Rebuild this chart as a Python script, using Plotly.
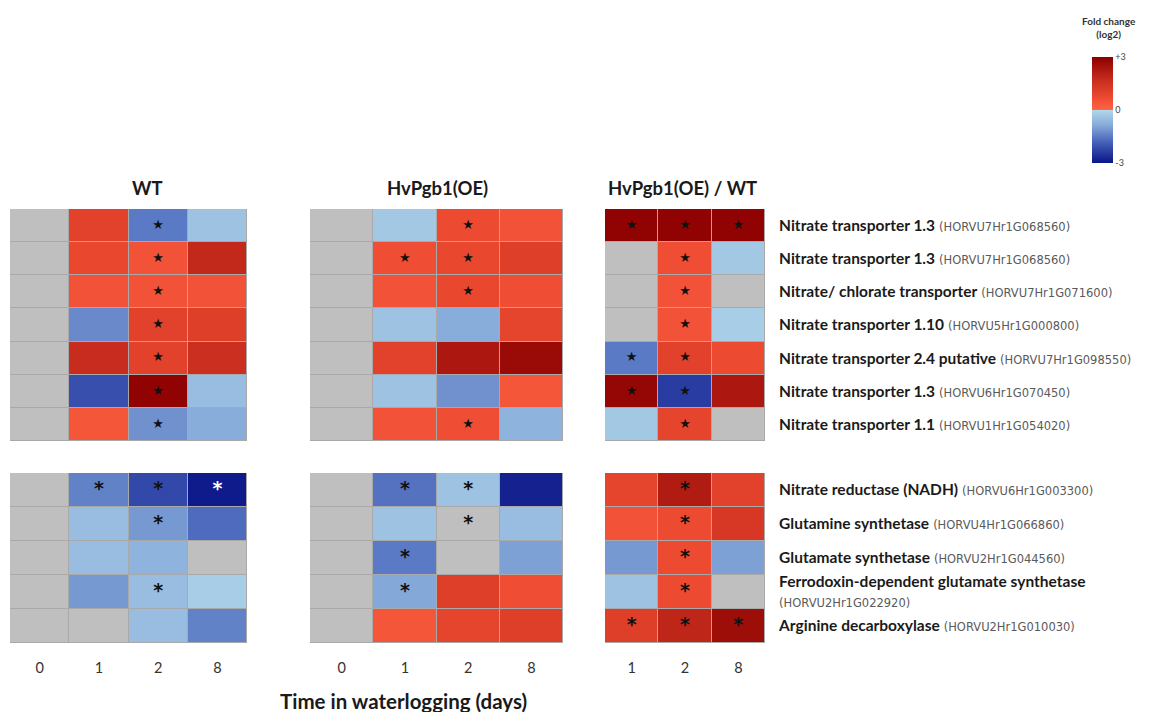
import plotly.graph_objects as go

# ---------------- data ----------------
WT_COLS = ["0", "1", "2", "8"]
OE_COLS = ["0", "1", "2", "8"]
RT_COLS = ["1", "2", "8"]

# log2 fold change; None = grey (not changed / not determined)
WT_TOP = [
    [None, 1.0, -1.5, -0.4],
    [None, 0.8, 0.5, 1.8],
    [None, 0.5, 0.5, 0.5],
    [None, -1.3, 1.0, 1.1],
    [None, 1.7, 1.0, 1.6],
    [None, -2.1, 2.9, -0.5],
    [None, 0.4, -1.2, -0.8],
]
WT_TOP_SIG = [
    [0, 0, 1, 0], [0, 0, 1, 0], [0, 0, 1, 0], [0, 0, 1, 0],
    [0, 0, 1, 0], [0, 0, 1, 0], [0, 0, 1, 0],
]
WT_BOT = [
    [None, -1.4, -2.2, -2.9],
    [None, -0.5, -1.1, -1.7],
    [None, -0.5, -0.7, None],
    [None, -1.1, -0.5, -0.2],
    [None, None, -0.5, -1.4],
]
WT_BOT_SIG = [
    [0, 1, 1, 2], [0, 0, 1, 0], [0, 0, 0, 0], [0, 0, 1, 0], [0, 0, 0, 0],
]

OE_TOP = [
    [None, -0.3, 0.7, 0.5],
    [None, 0.6, 0.8, 1.1],
    [None, 0.5, 0.8, 0.6],
    [None, -0.4, -0.8, 0.9],
    [None, 1.0, 2.3, 2.7],
    [None, -0.4, -1.2, 0.4],
    [None, 0.5, 0.6, -0.7],
]
OE_TOP_SIG = [
    [0, 0, 1, 0], [0, 1, 1, 0], [0, 0, 1, 0], [0, 0, 0, 0],
    [0, 0, 0, 0], [0, 0, 0, 0], [0, 0, 1, 0],
]
OE_BOT = [
    [None, -1.6, -0.4, -2.8],
    [None, -0.4, None, -0.5],
    [None, -1.5, None, -1.0],
    [None, -0.9, 1.1, 0.6],
    [None, 0.4, 0.9, 1.1],
]
OE_BOT_SIG = [
    [0, 1, 1, 0], [0, 0, 1, 0], [0, 1, 0, 0], [0, 1, 0, 0], [0, 0, 0, 0],
]

RT_TOP = [
    [2.9, 2.9, 2.9],
    [None, 0.6, -0.3],
    [None, 0.5, None],
    [None, 0.5, -0.2],
    [-1.5, 1.0, 0.7],
    [2.8, -2.4, 2.3],
    [-0.3, 0.9, None],
]
RT_TOP_SIG = [
    [1, 1, 1], [0, 1, 0], [0, 1, 0], [0, 1, 0], [1, 1, 0], [1, 1, 0], [0, 1, 0],
]
RT_BOT = [
    [0.9, 2.2, 1.0],
    [0.5, 0.7, 1.3],
    [-1.1, 0.7, -1.0],
    [-0.4, 0.7, None],
    [1.1, 1.9, 2.6],
]
RT_BOT_SIG = [
    [0, 1, 0], [0, 1, 0], [0, 1, 0], [0, 1, 0], [1, 1, 1],
]

TOP_GENES = [
    "Nitrate transporter 1.3", "Nitrate transporter 1.3",
    "Nitrate/ chlorate transporter", "Nitrate transporter 1.10",
    "Nitrate transporter 2.4 putative", "Nitrate transporter 1.3",
    "Nitrate transporter 1.1",
]
TOP_IDS = [
    "HORVU7Hr1G068560", "HORVU7Hr1G068560", "HORVU7Hr1G071600",
    "HORVU5Hr1G000800", "HORVU7Hr1G098550", "HORVU6Hr1G070450",
    "HORVU1Hr1G054020",
]
BOT_GENES = [
    "Nitrate reductase (NADH)", "Glutamine synthetase", "Glutamate synthetase",
    "Ferrodoxin-dependent glutamate synthetase", "Arginine decarboxylase",
]
BOT_IDS = [
    "HORVU6Hr1G003300", "HORVU4Hr1G066860", "HORVU2Hr1G044560",
    "HORVU2Hr1G022920", "HORVU2Hr1G010030",
]
BOT_BREAK = [False, False, False, True, False]

PANEL_TITLES = ["WT", "HvPgb1(OE)", "HvPgb1(OE) / WT"]
XLABEL = "Time in waterlogging (days)"

# ---------------- layout helpers ----------------
W, H = 1157, 712
FONT = "Lato, 'Open Sans', sans-serif"
GREY = "#bfbfbf"

COLORSCALE = [
    [0.0, "#0a1486"],
    [0.2, "#4763bb"],
    [0.35, "#84a8d8"],
    [0.5, "#b2d8ea"],
    [0.5, "#ff6446"],
    [0.62, "#ec4a30"],
    [0.78, "#c82d1e"],
    [1.0, "#8c0000"],
]

def px_x(a, b):
    return [a / W, b / W]

def px_y(top, bottom):
    return [1 - bottom / H, 1 - top / H]

panels_x = [px_x(10, 247), px_x(310, 563), px_x(605, 765)]
top_y = px_y(209, 441)
bot_y = px_y(473, 643)

blocks = [
    (0, True, WT_COLS, WT_TOP, WT_TOP_SIG),
    (1, True, OE_COLS, OE_TOP, OE_TOP_SIG),
    (2, True, RT_COLS, RT_TOP, RT_TOP_SIG),
    (0, False, WT_COLS, WT_BOT, WT_BOT_SIG),
    (1, False, OE_COLS, OE_BOT, OE_BOT_SIG),
    (2, False, RT_COLS, RT_BOT, RT_BOT_SIG),
]

def gene_label(name, gid, brk):
    sep = "<br>" if brk else " "
    return (f"<b>{name}</b>{sep}<span style=\"font-family:'DejaVu Sans';"
            f"font-size:11.5px;fill:#5a5a5a;font-weight:normal\">({gid})</span>")

fig = go.Figure()
layout = {}

for i, (p, is_top, cols, z, sig) in enumerate(blocks):
    n = i + 1
    xa = "x" if n == 1 else f"x{n}"
    ya = "y" if n == 1 else f"y{n}"
    nrows = len(z)
    rows = list(range(nrows))
    grey_z = [[1 if v is None else None for v in r] for r in z]
    fig.add_trace(go.Heatmap(
        x=cols, y=rows, z=grey_z, xaxis=xa, yaxis=ya,
        colorscale=[[0, GREY], [1, GREY]], showscale=False,
        xgap=1, ygap=1, hoverinfo="skip"))
    fig.add_trace(go.Heatmap(
        x=cols, y=rows, z=z, xaxis=xa, yaxis=ya, coloraxis="coloraxis",
        xgap=1, ygap=1))
    sx, sy, st, sc = [], [], [], []
    for r in rows:
        for c, col in enumerate(cols):
            s = sig[r][c]
            if s:
                sx.append(col)
                sy.append(r)
                st.append("★" if is_top else "<b>*</b>")
                sc.append("white" if s == 2 else "#111111")
    fig.add_trace(go.Scatter(
        x=sx, y=sy, text=st, mode="text", xaxis=xa, yaxis=ya,
        textfont=dict(color=sc, size=13 if is_top else 19,
                      family="DejaVu Sans"),
        textposition="middle center", showlegend=False, hoverinfo="skip"))

    xkey = "xaxis" if n == 1 else f"xaxis{n}"
    ykey = "yaxis" if n == 1 else f"yaxis{n}"
    layout[xkey] = dict(
        domain=panels_x[p], anchor=ya, type="category",
        range=[-0.5, len(cols) - 0.5],
        showticklabels=not is_top, ticks="outside" if not is_top else "",
        ticklen=12, tickcolor="rgba(0,0,0,0)",
        tickfont=dict(size=14.5, color="#333333", family=FONT),
        showgrid=False, zeroline=False, showline=False, fixedrange=True)
    ydict = dict(
        domain=top_y if is_top else bot_y, anchor=xa,
        range=[nrows - 0.5, -0.5], showgrid=False, zeroline=False,
        showline=False, fixedrange=True, showticklabels=False)
    if p == 2:
        genes, ids = (TOP_GENES, TOP_IDS) if is_top else (BOT_GENES, BOT_IDS)
        brks = [False] * len(genes) if is_top else BOT_BREAK
        ydict.update(
            side="right", showticklabels=True, tickvals=rows,
            ticktext=[gene_label(g, d, b) for g, d, b in zip(genes, ids, brks)],
            ticks="outside", ticklen=10, tickcolor="rgba(0,0,0,0)",
            tickfont=dict(size=15.5, color="#1a1a1a", family=FONT))
    layout[ykey] = ydict

annotations = []
title_x = [147, 437, 683]
for t, xpx in zip(PANEL_TITLES, title_x):
    annotations.append(dict(
        text=f"<b>{t}</b>", x=xpx / W, y=1 - 188 / H, xref="paper", yref="paper",
        showarrow=False, font=dict(size=18.5, color="#1a1a1a", family=FONT),
        xanchor="center", yanchor="middle"))
annotations.append(dict(
    text=f"<b>{XLABEL}</b>", x=403 / W, y=1 - 701 / H, xref="paper", yref="paper",
    showarrow=False, font=dict(size=20.5, color="#1a1a1a", family=FONT),
    xanchor="center", yanchor="middle"))
annotations.append(dict(
    text="<b>Fold change<br>(log2)</b>", x=1109 / W, y=1 - 28 / H,
    xref="paper", yref="paper", showarrow=False, align="center",
    font=dict(size=10, color="#333333", family=FONT),
    xanchor="center", yanchor="middle"))

fig.update_layout(
    width=W, height=H, margin=dict(l=0, r=0, t=0, b=0),
    paper_bgcolor="white", plot_bgcolor="#a9a9a9",
    font=dict(family=FONT),
    showlegend=False,
    coloraxis=dict(
        colorscale=COLORSCALE, cmin=-3, cmax=3,
        colorbar=dict(
            x=1092 / W, xanchor="left", xref="paper",
            y=1 - 110 / H, yanchor="middle", yref="paper",
            len=106 / H, lenmode="fraction", thickness=21, ypad=0, xpad=0,
            outlinewidth=0, ticks="",
            tickvals=[3, 0, -3], ticktext=["+3", "0", "-3"],
            tickfont=dict(size=9, color="#444444", family=FONT))),
    annotations=annotations,
    **layout)

fig.write_html("out.html")
